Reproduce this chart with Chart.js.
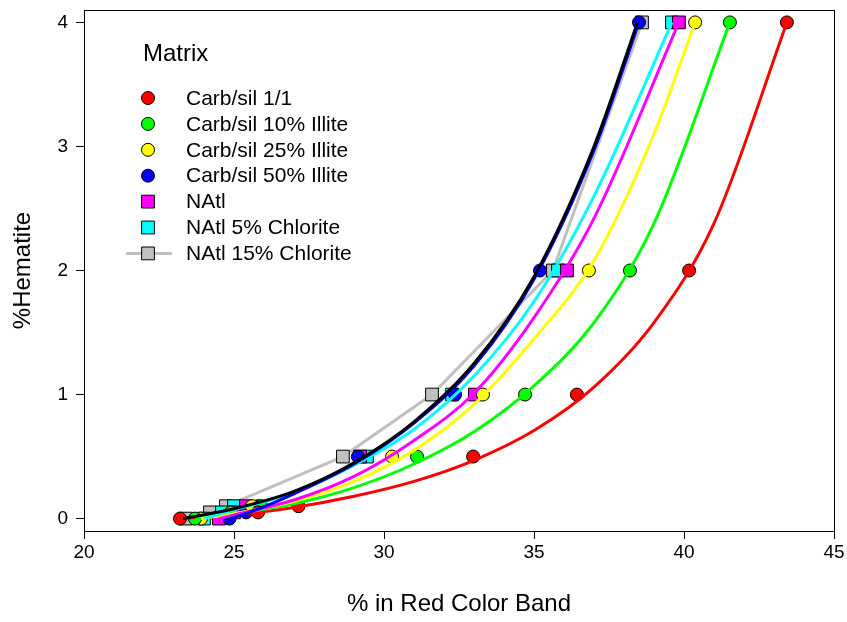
<!DOCTYPE html>
<html>
<head>
<meta charset="utf-8">
<script src="https://cdn.jsdelivr.net/npm/chart.js@4.4.1/dist/chart.umd.min.js"></script>
<style>
  html, body { margin: 0; padding: 0; background: #fff; }
  #wrap { width: 847px; height: 622px; }
</style>
</head>
<body>
<div id="wrap"><canvas id="c" width="847" height="622"></canvas></div>
<script>
// Hematite content of each standard (%), shared by every matrix
const hematite = [0, 0.05, 0.1, 0.5, 1, 2, 4];

// Measured % in the red colour band for each matrix
const carbSil11 = [23.2, 25.8, 27.15, 32.97, 36.43, 40.17, 43.43];
const carbSil10 = [23.7, 24.9, 25.9, 31.1, 34.7, 38.2, 41.53];
const carbSil25 = [23.9, 24.9, 25.6, 30.27, 33.3, 36.83, 40.37];
const carbSil50 = [24.85, 25.4, 25.8, 29.13, 32.37, 35.2, 38.5];
const nAtl = [24.5, 25.0, 25.4, 29.2, 33.03, 36.1, 39.83];
const nAtl5 = [24.0, 24.6, 25.0, 29.43, 32.27, 35.8, 39.6];
const nAtl15 = [23.4, 24.2, 24.73, 28.63, 31.6, 35.63, 38.6];

const seriesNames = ['Carb/sil 1/1', 'Carb/sil 10% Illite', 'Carb/sil 25% Illite',
  'Carb/sil 50% Illite', 'NAtl', 'NAtl 5% Chlorite', 'NAtl 15% Chlorite'];
const legendTitle = 'Matrix';

// Calibration curves (x = % red band, y = % hematite)
const curveRedX = [23.2, 25, 27, 29, 31, 33, 35, 37, 39, 41, 43.43];
const curveRedY = [0, 0.03, 0.09, 0.18, 0.3, 0.47, 0.71, 1.06, 1.58, 2.38, 4.0];
const curveGreenX = [23.7, 25, 27, 29, 31, 33, 35, 37, 39, 41.53];
const curveGreenY = [0, 0.04, 0.12, 0.25, 0.44, 0.7, 1.07, 1.58, 2.38, 4.0];
const curveYellowX = [23.9, 25, 27, 29, 31, 33, 35, 37, 39, 40.37];
const curveYellowY = [0, 0.04, 0.14, 0.3, 0.55, 0.92, 1.45, 2.08, 3.1, 4.0];
const curveBlueX = [24.85, 25.5, 27, 29, 31, 33, 35, 37, 38.5];
const curveBlueY = [0, 0.05, 0.2, 0.44, 0.77, 1.23, 1.93, 2.97, 4.0];
const curveMagentaX = [24.5, 25, 27, 29, 31, 33, 35, 37, 39.83];
const curveMagentaY = [0, 0.03, 0.15, 0.34, 0.63, 1.01, 1.62, 2.42, 4.0];
const curveCyanX = [24.0, 25, 27, 29, 31, 33, 35, 37, 39.6];
const curveCyanY = [0, 0.07, 0.21, 0.43, 0.72, 1.15, 1.75, 2.6, 4.0];
const curveBlackX = [23.3, 25, 27, 29, 31, 33, 35, 37, 38.45];
const curveBlackY = [0, 0.08, 0.22, 0.45, 0.78, 1.25, 1.95, 3.0, 4.0];

const FONT = 'Arial, "Liberation Sans", sans-serif';

const toPoints = (xs, ys) => xs.map((x, i) => ({ x: x, y: ys[i] }));

function markerSet(label, xs, fill, style, withLine) {
  return {
    label: label,
    data: toPoints(xs, hematite),
    showLine: !!withLine,
    borderColor: '#c0c0c0',
    borderWidth: withLine ? 3 : 0,
    pointStyle: style,
    pointRadius: style === 'rect' ? 9 : 6.5,
    pointBackgroundColor: fill,
    pointBorderColor: '#000',
    pointBorderWidth: 1,
    order: 2
  };
}

function curveSet(xs, ys, color) {
  return {
    label: '',
    data: toPoints(xs, ys),
    showLine: true,
    borderColor: color,
    borderWidth: 3,
    pointRadius: 0,
    cubicInterpolationMode: 'monotone',
    order: 1
  };
}

const legendStyles = [
  { fill: '#ff0000', style: 'circle' },
  { fill: '#00ff00', style: 'circle' },
  { fill: '#ffff00', style: 'circle' },
  { fill: '#0000ff', style: 'circle' },
  { fill: '#ff00ff', style: 'rect' },
  { fill: '#00ffff', style: 'rect' },
  { fill: '#c0c0c0', style: 'rect', line: true }
];

function drawMarker(ctx, x, y, style, fill) {
  ctx.beginPath();
  if (style === 'circle') {
    ctx.arc(x, y, 6.5, 0, Math.PI * 2);
  } else {
    ctx.rect(x - 6.4, y - 6.4, 12.8, 12.8);
  }
  ctx.fillStyle = fill;
  ctx.fill();
  ctx.lineWidth = 1;
  ctx.strokeStyle = '#000';
  ctx.stroke();
}

const framePlugin = {
  id: 'frame',
  afterDraw(chart) {
    const { ctx, chartArea: a } = chart;
    ctx.save();
    ctx.strokeStyle = '#000';
    ctx.lineWidth = 1;
    ctx.strokeRect(Math.round(a.left) + 0.5, Math.round(a.top) + 0.5,
      Math.round(a.right - a.left), Math.round(a.bottom - a.top));
    ctx.restore();
  }
};

const matrixLegend = {
  id: 'matrixLegend',
  afterDraw(chart) {
    const ctx = chart.ctx;
    ctx.save();
    ctx.textBaseline = 'middle';
    ctx.textAlign = 'left';
    ctx.fillStyle = '#000';
    ctx.font = '24px ' + FONT;
    ctx.fillText(legendTitle, 143, 54);
    ctx.font = '21px ' + FONT;
    seriesNames.forEach((name, i) => {
      const y = 98 + i * 25.9;
      const s = legendStyles[i];
      if (s.line) {
        ctx.beginPath();
        ctx.moveTo(126, y);
        ctx.lineTo(172, y);
        ctx.strokeStyle = '#c0c0c0';
        ctx.lineWidth = 3;
        ctx.stroke();
      }
      drawMarker(ctx, 148, y, s.style, s.fill);
      ctx.fillStyle = '#000';
      ctx.fillText(name, 186, y + 1);
    });
    ctx.restore();
  }
};

new Chart(document.getElementById('c'), {
  type: 'scatter',
  data: {
    datasets: [
      curveSet(curveBlackX, curveBlackY, '#000000'),
      curveSet(curveBlueX, curveBlueY, '#0000ff'),
      curveSet(curveCyanX, curveCyanY, '#00ffff'),
      curveSet(curveMagentaX, curveMagentaY, '#ff00ff'),
      curveSet(curveYellowX, curveYellowY, '#ffff00'),
      curveSet(curveGreenX, curveGreenY, '#00ff00'),
      curveSet(curveRedX, curveRedY, '#ff0000'),
      markerSet(seriesNames[0], carbSil11, '#ff0000', 'circle'),
      markerSet(seriesNames[1], carbSil10, '#00ff00', 'circle'),
      markerSet(seriesNames[2], carbSil25, '#ffff00', 'circle'),
      markerSet(seriesNames[3], carbSil50, '#0000ff', 'circle'),
      markerSet(seriesNames[4], nAtl, '#ff00ff', 'rect'),
      markerSet(seriesNames[5], nAtl5, '#00ffff', 'rect'),
      markerSet(seriesNames[6], nAtl15, '#c0c0c0', 'rect', true)
    ]
  },
  options: {
    responsive: false,
    animation: false,
    layout: { padding: { top: 6, right: 13, left: 0, bottom: 0 } },
    plugins: { legend: { display: false }, tooltip: { enabled: false } },
    scales: {
      x: {
        type: 'linear',
        min: 20, max: 45,
        afterBuildTicks(scale) { scale.ticks = [20, 25, 30, 35, 40, 45].map(v => ({ value: v })); },
        afterFit(scale) { scale.height = 91; scale.paddingLeft = 0; scale.paddingRight = 0; },
        ticks: { color: '#000', font: { family: FONT, size: 19 }, padding: 2, maxRotation: 0 },
        grid: { drawOnChartArea: false, drawTicks: true, tickLength: 8, color: '#000', tickWidth: 1 },
        border: { display: true, color: '#000', width: 1 },
        title: { display: true, text: '% in Red Color Band', color: '#000',
                 font: { family: FONT, size: 24 }, padding: { top: 0, bottom: 3 } }
      },
      y: {
        type: 'linear',
        min: -0.1, max: 4.1,
        afterBuildTicks(scale) { scale.ticks = [0, 1, 2, 3, 4].map(v => ({ value: v })); },
        afterFit(scale) { scale.width = 84; scale.paddingTop = 0; scale.paddingBottom = 0; },
        ticks: { color: '#000', font: { family: FONT, size: 19 }, padding: 8 },
        grid: { drawOnChartArea: false, drawTicks: true, tickLength: 8, color: '#000', tickWidth: 1 },
        border: { display: true, color: '#000', width: 1 },
        title: { display: true, text: '%Hematite', color: '#000',
                 font: { family: FONT, size: 24 }, padding: { top: 9, bottom: 0 } }
      }
    }
  },
  plugins: [framePlugin, matrixLegend]
});
</script>
</body>
</html>
